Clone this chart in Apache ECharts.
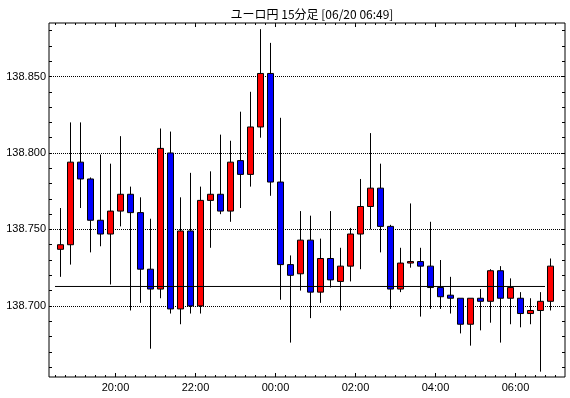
<!DOCTYPE html>
<html>
<head>
<meta charset="utf-8">
<script src="https://cdn.jsdelivr.net/npm/echarts@6/dist/echarts.min.js"></script>
<style>
  html, body { margin: 0; padding: 0; background: #fff; }
  #main { width: 570px; height: 398px; }
</style>
</head>
<body>
<div id="main"></div>
<script>
// 15分足 ユーロ円, 18:30 から 06:45 まで (x は 18:00 からの15分単位)
const titleText = 'ユーロ円 15分足 [06/20 06:49]'
const firstSlot = 2 // 18:30
const opens  = [138.737, 138.740, 138.794, 138.783, 138.756, 138.747, 138.762, 138.773, 138.761, 138.724,
                138.711, 138.800, 138.698, 138.749, 138.700, 138.769, 138.773, 138.762, 138.795, 138.786,
                138.817, 138.852, 138.781, 138.727, 138.721, 138.743, 138.709, 138.731, 138.716, 138.726,
                138.747, 138.765, 138.777, 138.752, 138.711, 138.728, 138.729, 138.726, 138.712, 138.707,
                138.705, 138.688, 138.705, 138.703, 138.723, 138.705, 138.705, 138.695, 138.697, 138.703]
const highs  = [138.764, 138.820, 138.820, 138.784, 138.799, 138.793, 138.811, 138.778, 138.771, 138.757,
                138.816, 138.814, 138.771, 138.787, 138.778, 138.788, 138.812, 138.808, 138.827, 138.840,
                138.881, 138.872, 138.823, 138.733, 138.762, 138.759, 138.744, 138.762, 138.738, 138.751,
                138.783, 138.813, 138.793, 138.753, 138.738, 138.767, 138.738, 138.755, 138.730, 138.719,
                138.705, 138.705, 138.711, 138.724, 138.726, 138.718, 138.709, 138.705, 138.709, 138.731]
const lows   = [138.719, 138.727, 138.764, 138.735, 138.739, 138.714, 138.752, 138.697, 138.702, 138.672,
                138.705, 138.695, 138.688, 138.695, 138.695, 138.738, 138.760, 138.755, 138.764, 138.778,
                138.810, 138.772, 138.704, 138.676, 138.710, 138.692, 138.702, 138.712, 138.697, 138.716,
                138.724, 138.750, 138.735, 138.698, 138.709, 138.725, 138.693, 138.698, 138.698, 138.695,
                138.682, 138.674, 138.684, 138.689, 138.676, 138.688, 138.686, 138.688, 138.657, 138.697]
const closes = [138.740, 138.794, 138.783, 138.756, 138.747, 138.762, 138.773, 138.761, 138.724, 138.711,
                138.803, 138.698, 138.749, 138.700, 138.769, 138.773, 138.762, 138.794, 138.786, 138.817,
                138.852, 138.781, 138.727, 138.720, 138.743, 138.709, 138.731, 138.717, 138.726, 138.747,
                138.765, 138.777, 138.752, 138.711, 138.728, 138.729, 138.726, 138.712, 138.706, 138.705,
                138.688, 138.705, 138.703, 138.723, 138.705, 138.712, 138.695, 138.697, 138.703, 138.726]
const refLevel = 138.7127
const priceLabels = [138.70, 138.75, 138.80, 138.85]
const timeLabels = ['20:00', '22:00', '00:00', '02:00', '04:00', '06:00']

const yMin = 138.6535
const yMax = 138.8850
const xMin = 1.35
const xMax = 52.95

// 時刻ラベル -> 18:00 からの15分スロット
const slotOf = (t) => {
  const h = parseInt(t.split(':')[0], 10)
  return ((h - 18 + 24) % 24) * 4
}
const labelSlots = timeLabels.map(slotOf)
const minorSlots = []
for (let s = Math.ceil(xMin); s <= Math.floor(xMax); s++) minorSlots.push(s)
const minorPrices = []
for (let k = Math.ceil(yMin * 100); k <= Math.floor(yMax * 100); k++) minorPrices.push(+(k / 100).toFixed(2))

const candles = opens.map((o, i) => [firstSlot + i + 0.5, o, closes[i], lows[i], highs[i]])
const refLine = [[firstSlot - 0.05, refLevel], [firstSlot + opens.length - 1 - 0.05, refLevel]]

const font = { color: '#000', fontFamily: 'Liberation Sans', fontSize: 11 }

const xBase = (pos, ticks, len, labels) => ({
  type: 'value',
  position: pos,
  min: xMin,
  max: xMax,
  axisLine: { show: false },
  splitLine: { show: false },
  axisTick: { show: true, inside: true, length: len, customValues: ticks, lineStyle: { color: '#000', width: 1 } },
  axisLabel: labels
    ? { show: true, customValues: labelSlots, margin: 5, ...font,
        formatter: (v) => timeLabels[labelSlots.indexOf(Math.round(v))] || '' }
    : { show: false }
})

const yBase = (pos, ticks, labels) => ({
  type: 'value',
  position: pos,
  min: yMin,
  max: yMax,
  axisLine: { show: false },
  splitLine: labels
    ? { show: true, lineStyle: { color: '#000', type: [1, 1], width: 1 } }
    : { show: false },
  axisTick: { show: true, inside: true, length: 3, customValues: ticks, lineStyle: { color: '#000', width: 1 } },
  axisLabel: labels
    ? { show: true, customValues: priceLabels, margin: 3, ...font, formatter: (v) => v.toFixed(3) }
    : { show: false }
})

const chart = echarts.init(document.getElementById('main'))
chart.setOption({
  animation: false,
  backgroundColor: '#fff',
  title: {
    text: titleText,
    left: 307,
    textAlign: 'center',
    top: 3,
    textStyle: { color: '#000', fontWeight: 'normal', fontSize: 12, fontFamily: 'Noto Sans CJK JP' }
  },
  grid: { left: 49, right: 5, top: 23, bottom: 21, show: true, borderColor: '#000', borderWidth: 1 },
  xAxis: [
    xBase('bottom', labelSlots, 4, true),
    xBase('bottom', minorSlots, 2, false),
    xBase('top', labelSlots, 4, false),
    xBase('top', minorSlots, 2, false)
  ],
  yAxis: [
    yBase('left', priceLabels, true),
    yBase('left', minorPrices, false),
    yBase('right', minorPrices, false)
  ],
  series: [
    {
      type: 'candlestick',
      data: candles,
      encode: { x: 0, y: [1, 2, 3, 4] },
      barWidth: 7,
      silent: true,
      itemStyle: {
        color: '#ff0000',
        color0: '#0000ff',
        borderColor: '#000',
        borderColor0: '#000',
        borderWidth: 1
      }
    },
    {
      type: 'line',
      data: refLine,
      symbol: 'none',
      silent: true,
      z: 3,
      lineStyle: { color: '#000', width: 1 }
    }
  ]
})
</script>
</body>
</html>
